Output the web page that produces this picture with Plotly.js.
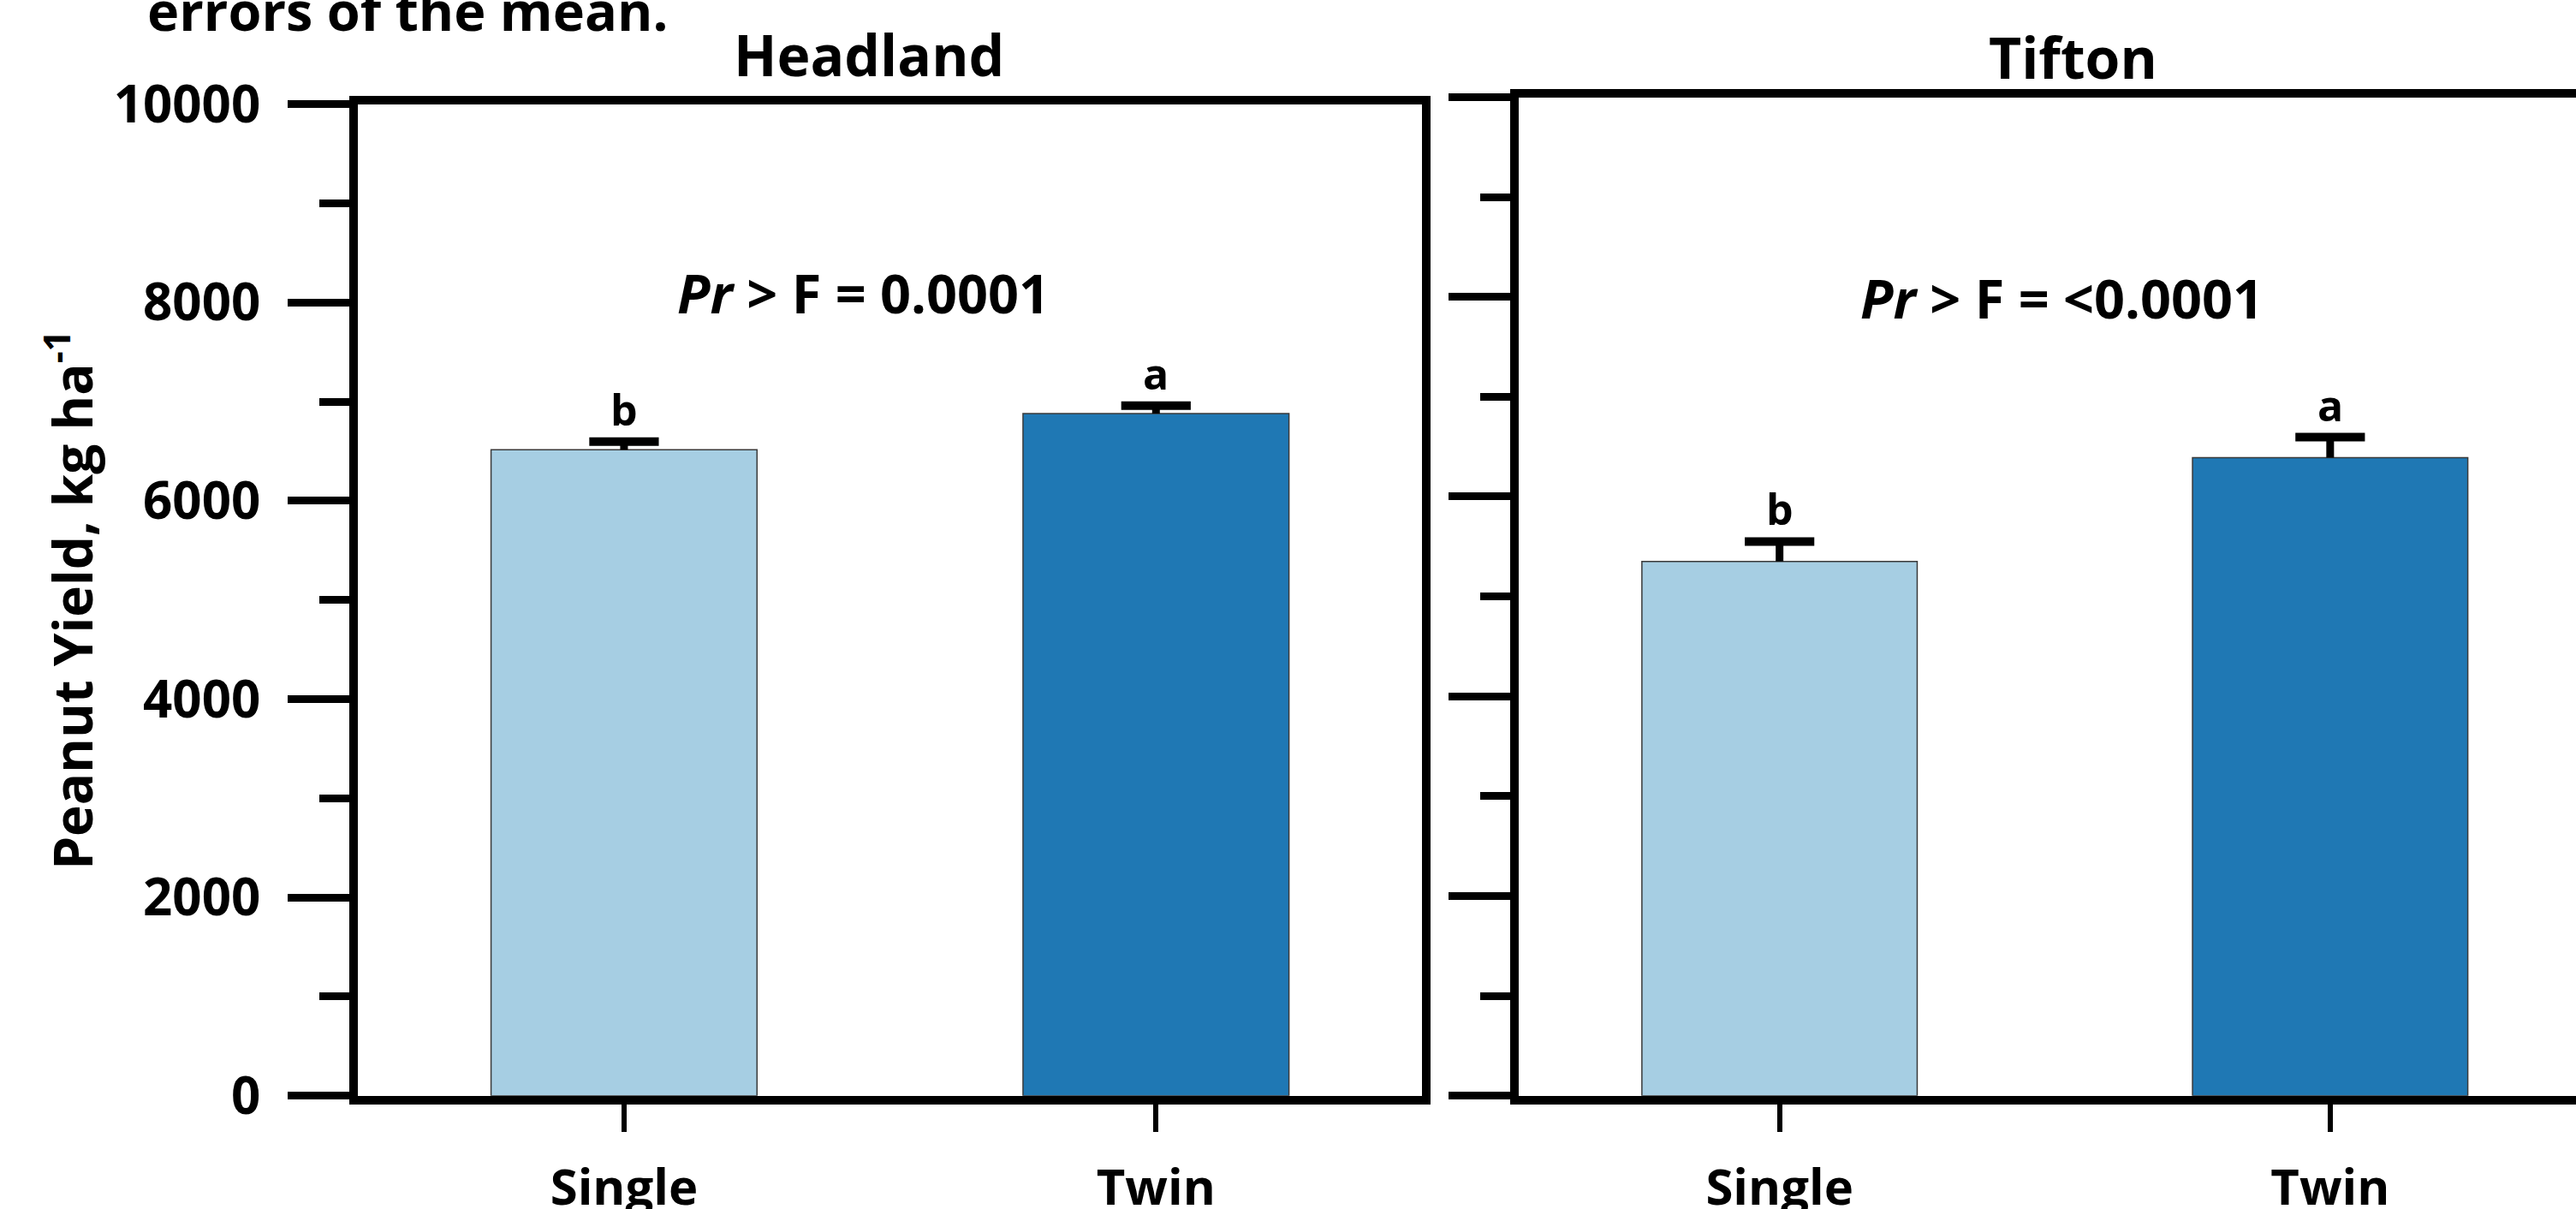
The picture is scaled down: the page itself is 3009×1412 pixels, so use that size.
<!DOCTYPE html>
<html>
<head>
<meta charset="utf-8">
<script src="https://cdn.plot.ly/plotly-3.0.1.min.js"></script>
<style>html,body{margin:0;padding:0;background:#fff;}#chart{width:3009px;height:1412px;}</style>
</head>
<body>
<div id="chart"></div>
<script>
// ---- data ----
const categories = ['Single', 'Twin'];
const headlandYield = [6515, 6880];
const headlandSE = [83, 80];
const headlandLetters = ['b', 'a'];
const tiftonYield = [5350, 6390];
const tiftonSE = [200, 205];
const tiftonLetters = ['b', 'a'];
const barColors = ['#a6cee3', '#1f78b4'];
const panelTitles = ['Headland', 'Tifton'];
const probTexts = ['<i>Pr</i> &gt; F = 0.0001', '<i>Pr</i> &gt; F = &lt;0.0001'];
const yTitle = 'Peanut Yield, kg ha<sup>-1</sup>';
const captionText = 'errors of the mean.';

const FONT = 'Open Sans, Liberation Sans, sans-serif';

function panelTraces(vals, se, xa, ya) {
  const tops = vals.map((v, i) => v + se[i]);
  const sx = [], sy = [];
  categories.forEach((c, i) => { sx.push(c, c, null); sy.push(vals[i], tops[i], null); });
  return [
    {type: 'bar', x: categories, y: vals, width: 0.5, xaxis: xa, yaxis: ya,
     marker: {color: barColors, line: {color: '#3a3a3a', width: 1.5}}, hoverinfo: 'skip'},
    {type: 'scatter', mode: 'lines', x: sx, y: sy, xaxis: xa, yaxis: ya,
     line: {color: '#000', width: 9}, hoverinfo: 'skip'},
    {type: 'scatter', mode: 'markers', x: categories, y: tops, xaxis: xa, yaxis: ya,
     marker: {symbol: 'line-ew', size: 58, color: '#000', line: {color: '#000', width: 10}}, hoverinfo: 'skip'}
  ];
}

const data = [].concat(
  panelTraces(headlandYield, headlandSE, 'x', 'y'),
  panelTraces(tiftonYield, tiftonSE, 'x2', 'y2')
);

function letterAnns(vals, se, letters, xr, yr) {
  return categories.map((c, i) => ({
    x: c, y: vals[i] + se[i], xref: xr, yref: yr, text: '<b>' + letters[i] + '</b>',
    showarrow: false, yanchor: 'bottom', yshift: 2,
    font: {family: FONT, size: 50, color: '#000'}
  }));
}

const annotations = [
  {xref: 'paper', yref: 'paper', x: 0.0565, y: 0.9603, xanchor: 'left', yanchor: 'bottom',
   text: '<b>' + captionText + '</b>', showarrow: false, font: {family: FONT, size: 63, color: '#000'}},
  {xref: 'paper', yref: 'paper', x: 0.3373, y: 0.9221, xanchor: 'center', yanchor: 'bottom',
   text: '<b>' + panelTitles[0] + '</b>', showarrow: false, font: {family: FONT, size: 66, color: '#000'}},
  {xref: 'paper', yref: 'paper', x: 0.8049, y: 0.92, xanchor: 'center', yanchor: 'bottom',
   text: '<b>' + panelTitles[1] + '</b>', showarrow: false, font: {family: FONT, size: 66, color: '#000'}},
  {xref: 'paper', yref: 'paper', x: 0.3353, y: 0.7578, xanchor: 'center', yanchor: 'middle',
   text: '<b>' + probTexts[0] + '</b>', showarrow: false, font: {family: FONT, size: 63, color: '#000'}},
  {xref: 'paper', yref: 'paper', x: 0.8003, y: 0.7542, xanchor: 'center', yanchor: 'middle',
   text: '<b>' + probTexts[1] + '</b>', showarrow: false, font: {family: FONT, size: 63, color: '#000'}}
].concat(letterAnns(headlandYield, headlandSE, headlandLetters, 'x', 'y'),
         letterAnns(tiftonYield, tiftonSE, tiftonLetters, 'x2', 'y2'));

const xCommon = {
  type: 'category', showline: true, linewidth: 10, linecolor: '#000', mirror: true,
  ticks: 'outside', ticklen: 32, tickwidth: 6, tickcolor: '#000',
  showgrid: false, zeroline: false, fixedrange: true, ticklabelstandoff: 16,
  tickfont: {family: FONT, size: 58, color: '#000', weight: 'bold'}
};
const yCommon = {
  range: [0, 10000], tick0: 0, dtick: 2000, tickformat: 'd', showline: true, linewidth: 10, linecolor: '#000',
  ticks: 'outside', ticklen: 72, tickwidth: 9, tickcolor: '#000',
  minor: {dtick: 1000, ticks: 'outside', ticklen: 35, tickwidth: 9, tickcolor: '#000', showgrid: false},
  showgrid: false, zeroline: false, fixedrange: true,
  tickfont: {family: FONT, size: 60, color: '#000', weight: 'bold'}
};

const layout = {
  width: 3009, height: 1412,
  margin: {l: 0, r: 0, t: 0, b: 0},
  paper_bgcolor: '#fff', plot_bgcolor: '#fff',
  showlegend: false, bargap: 0.5,
  font: {family: FONT, color: '#000'},
  xaxis: Object.assign({}, xCommon, {domain: [0.139, 0.552], range: [-0.5, 1.5], anchor: 'y'}),
  yaxis: Object.assign({}, yCommon, {domain: [0.0937, 0.9138], anchor: 'x', mirror: true,
    ticklabelstandoff: 20,
    title: {text: '<b>' + yTitle + '</b>', standoff: 8, font: {family: FONT, size: 62, color: '#000'}}}),
  xaxis2: Object.assign({}, xCommon, {domain: [0.5895, 1], range: [-0.474, 1.4465], anchor: 'y2'}),
  yaxis2: Object.assign({}, yCommon, {domain: [0.0937, 0.9196], anchor: 'x2', mirror: false, showticklabels: false}),
  annotations: annotations
};

Plotly.newPlot('chart', data, layout, {displayModeBar: false, staticPlot: true});
</script>
</body>
</html>
